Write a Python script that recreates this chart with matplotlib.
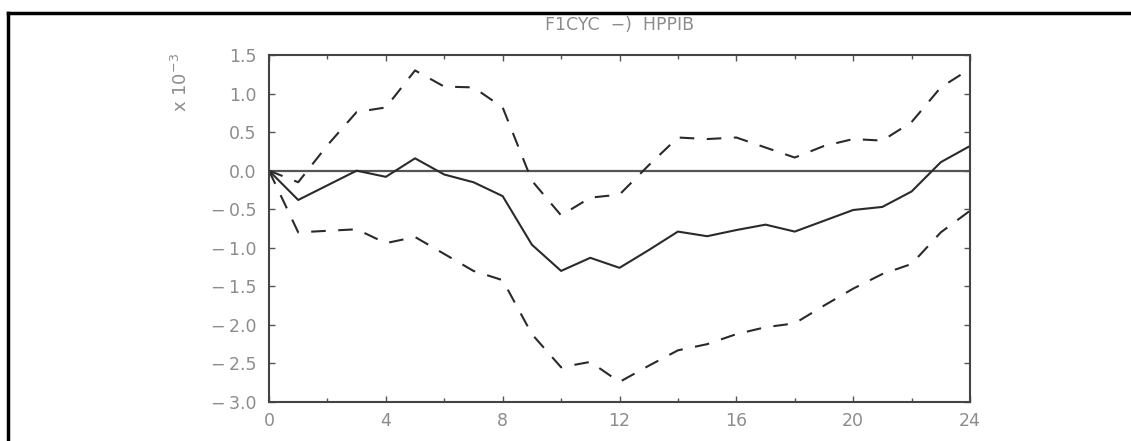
import matplotlib
matplotlib.use("Agg")
import matplotlib.pyplot as plt
from matplotlib.lines import Line2D
from matplotlib.ticker import MultipleLocator, FixedLocator

# Horizon steps and impulse response (x 10^-3) with the two error bands
steps = list(range(25))
response = [0.0, -0.38, -0.19, 0.0, -0.08, 0.16, -0.05, -0.15, -0.33, -0.96,
            -1.30, -1.13, -1.26, -1.03, -0.79, -0.85, -0.77, -0.70, -0.79, -0.65,
            -0.51, -0.47, -0.27, 0.11, 0.32]
upper = [0.0, -0.15, 0.33, 0.76, 0.82, 1.30, 1.09, 1.08, 0.82, -0.13,
         -0.58, -0.35, -0.31, 0.07, 0.43, 0.41, 0.43, 0.30, 0.17, 0.32,
         0.41, 0.39, 0.63, 1.08, 1.32]
lower = [0.0, -0.80, -0.78, -0.76, -0.94, -0.86, -1.08, -1.30, -1.42, -2.12,
         -2.55, -2.48, -2.74, -2.53, -2.33, -2.25, -2.12, -2.03, -1.98, -1.75,
         -1.53, -1.34, -1.21, -0.80, -0.52]

y_ticks = [1.5, 1.0, 0.5, 0.0, -0.5, -1.0, -1.5, -2.0, -2.5, -3.0]
x_ticks = [0, 4, 8, 12, 16, 20, 24]

W, H = 1131, 441
fig = plt.figure(figsize=(W / 100, H / 100), dpi=100)
# axes box in pixels: left 269, right 970, top 55, bottom 402
ax = fig.add_axes([269 / W, 1 - 402 / H, (970 - 269) / W, (402 - 55) / H])

txt_col = "#8c8c8c"
line_col = "#2a2a2a"

ax.axhline(0, color="#555555", lw=1.6, zorder=1)
ax.plot(steps, upper, color=line_col, lw=1.5, dashes=(7, 6))
ax.plot(steps, lower, color=line_col, lw=1.5, dashes=(7, 6))
ax.plot(steps, response, color=line_col, lw=1.5)

ax.set_xlim(0, 24)
ax.set_ylim(-3.0, 1.5)

ax.xaxis.set_major_locator(FixedLocator(x_ticks))
ax.xaxis.set_minor_locator(MultipleLocator(2))
ax.yaxis.set_major_locator(FixedLocator(y_ticks))
ax.set_xticklabels([str(v) for v in x_ticks])
ax.set_yticklabels([("\u2212\u2009" + "%.1f" % abs(v)) if v < 0 else "%.1f" % v for v in y_ticks])

ax.tick_params(which="both", direction="in", top=True, right=True,
               color="#555555", labelcolor=txt_col, labelsize=12.5)
ax.tick_params(which="major", length=4, width=1)
ax.tick_params(which="minor", length=3, width=1)
ax.tick_params(axis="y", pad=9)
ax.tick_params(axis="x", pad=7)

for s in ax.spines.values():
    s.set_color("#444444")
    s.set_linewidth(1.5)

fig.text(620 / W, 1 - 25 / H, "F1CYC  \u2212)  HPPIB", ha="center", va="center",
         color=txt_col, fontsize=12.5)
fig.text(181 / W, 1 - 83 / H, r"x 10$^{-3}$", ha="center", va="center",
         rotation=90, color=txt_col, fontsize=13)

# outer frame lines (top and left)
fig.add_artist(Line2D([8 / W, 1.0], [1 - 13 / H, 1 - 13 / H], color="black", lw=2.5))
fig.add_artist(Line2D([8 / W, 8 / W], [0.0, 1 - 13 / H], color="black", lw=2.5))

fig.savefig("out.png", dpi=100)
